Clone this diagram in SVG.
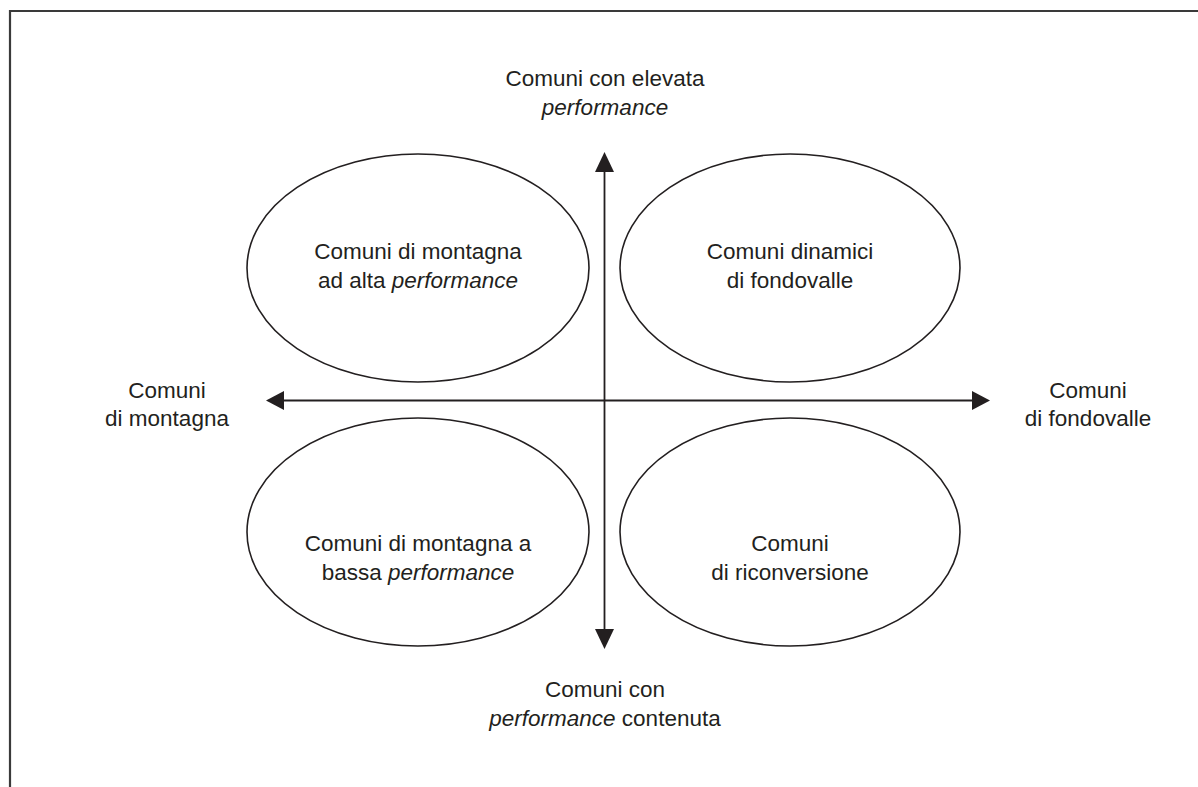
<svg xmlns="http://www.w3.org/2000/svg" width="1198" height="787" viewBox="0 0 1198 787">
<defs>
<style>
.frame{fill:none;stroke:#3a3a3a;stroke-width:2.2}
.ell{fill:none;stroke:#231f20;stroke-width:1.6}
.axis{fill:none;stroke:#231f20;stroke-width:1.8}
.head{fill:#231f20}
text{font-family:"Liberation Sans",Arial,sans-serif;font-size:22.5px;fill:#231f20;text-anchor:middle}
.it{font-style:italic}
</style>
</defs>
<rect width="1198" height="787" fill="#ffffff"/>
<g id="frame">
<path class="frame" d="M10,787 V11 H1198"/>
</g>
<g id="connectors">
<line class="axis" x1="282" y1="400.5" x2="974" y2="400.5"/>
<polygon class="head" points="266,400.5 284,391 284,410"/>
<polygon class="head" points="990,400.5 972,391 972,410"/>
<line class="axis" x1="604.5" y1="170" x2="604.5" y2="631"/>
<polygon class="head" points="604.5,152 595,172 614,172"/>
<polygon class="head" points="604.5,649 595,629 614,629"/>
</g>
<g id="label-top">
<text x="605" y="86">Comuni con elevata</text>
<text x="605" y="115" class="it">performance</text>
</g>
<g id="label-bottom">
<text x="605" y="697">Comuni con</text>
<text x="605" y="726"><tspan class="it">performance</tspan> contenuta</text>
</g>
<g id="label-left">
<text x="167" y="398">Comuni</text>
<text x="167" y="426">di montagna</text>
</g>
<g id="label-right">
<text x="1088" y="398">Comuni</text>
<text x="1088" y="426">di fondovalle</text>
</g>
<g id="node-tl">
<ellipse class="ell" cx="418" cy="268" rx="171" ry="114"/>
<text x="418" y="259">Comuni di montagna</text>
<text x="418" y="288">ad alta <tspan class="it">performance</tspan></text>
</g>
<g id="node-tr">
<ellipse class="ell" cx="790" cy="268" rx="170" ry="114"/>
<text x="790" y="259">Comuni dinamici</text>
<text x="790" y="288">di fondovalle</text>
</g>
<g id="node-bl">
<ellipse class="ell" cx="418" cy="532" rx="171" ry="114"/>
<text x="418" y="551">Comuni di montagna a</text>
<text x="418" y="580">bassa <tspan class="it">performance</tspan></text>
</g>
<g id="node-br">
<ellipse class="ell" cx="790" cy="532" rx="170" ry="114"/>
<text x="790" y="551">Comuni</text>
<text x="790" y="580">di riconversione</text>
</g>
</svg>
